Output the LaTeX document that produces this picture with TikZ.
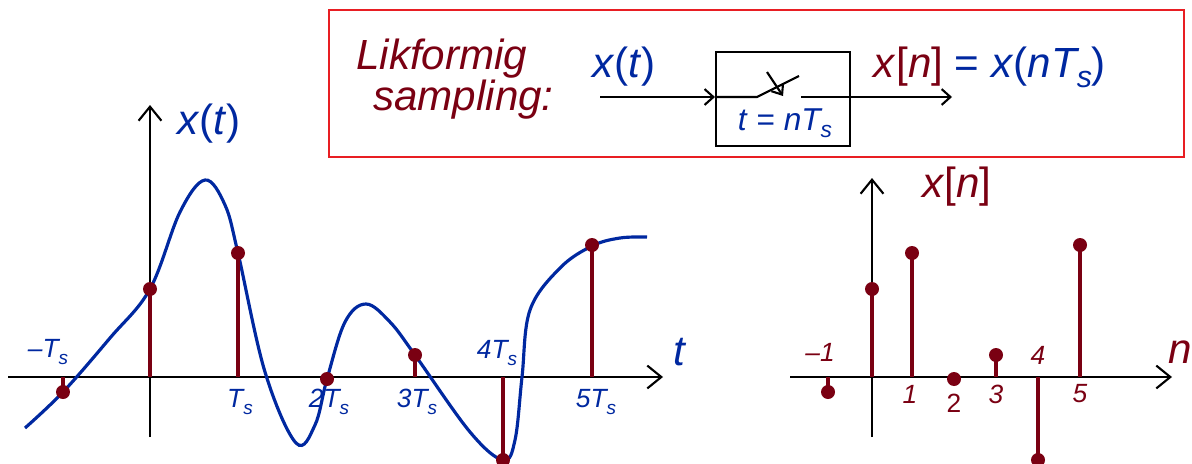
\documentclass[tikz,border=0pt]{standalone}
\usepackage{fontspec}
\setmainfont{Liberation Sans}
\usepackage{graphicx}
\usetikzlibrary{arrows.meta,positioning}
\definecolor{sigBlue}{RGB}{0,40,160}
\definecolor{sampRed}{RGB}{122,0,18}
\definecolor{frameRed}{RGB}{232,30,35}
\newcommand{\subs}[1]{\raisebox{-0.45ex}{\scalebox{0.72}{#1}}}
\newcommand{\Ts}{T\subs{s}}
\newcommand{\lp}{\textup{(}}
\newcommand{\rp}{\textup{)}}

\begin{document}
\begin{tikzpicture}[x=0.02cm, y=-0.02cm,
    every node/.style={font=\fontsize{15}{18}\selectfont\itshape, inner sep=1pt},
    biglabel/.style={font=\fontsize{24}{23}\selectfont\itshape},
    axisline/.style={line width=1.2pt, -{Straight Barb[length=8pt,width=13pt,line width=1.2pt]}},
    sigline/.style={sigBlue, line width=1.8pt},
    stemline/.style={sampRed, line width=1.8pt},
    sampdot/.style={circle, fill=sampRed, inner sep=0pt, minimum size=0.28cm}]
    \useasboundingbox (0,0) rectangle (1192,463);

    % uniform sampling block
    \draw[frameRed, line width=1.3pt] (329,10) rectangle (1184,157);
    \node[biglabel, sampRed, align=left] (title) at (455,79) {Likformig\\ \hspace{0.4em}sampling:};
    \node[biglabel, sigBlue] (xin) at (624,67) {x\lp t\rp};
    \node[draw, line width=1.2pt, minimum width=2.68cm, minimum height=1.88cm] (sampler) at (783,99) {};
    \coordinate (in) at (600,97);
    \coordinate (out) at (952,97);
    \coordinate (swa) at (757,97);
    \coordinate (swb) at (799,76);
    \coordinate (swc) at (801,97);
    \draw[line width=1.2pt, -{Straight Barb[length=5pt,width=9pt]}] (in) -- (sampler.west |- in);
    \draw[line width=1.2pt] (sampler.west |- in) -- (swa) -- (swb);
    \draw[line width=1.2pt, -{Straight Barb[length=5pt,width=9pt]}] (swc) -- (out);
    \draw[line width=1.2pt, -{Straight Barb[length=5pt,width=8pt]}] (767,72) -- (783,96);
    \node[sigBlue, font=\fontsize{18}{20}\selectfont\itshape] (tlab) at (785,123) {t \textup{=} n\Ts};
    \node[biglabel, sigBlue] (xout) at (990,67) {\textcolor{sampRed}{x\textup{[}n\textup{]}} \textup{=} x\lp n\Ts\rp};

    % continuous signal and its samples
    \coordinate (tstart) at (8,377);
    \coordinate (tend) at (663,377);
    \coordinate (ybot) at (150,437);
    \coordinate (ytop) at (150,105);
    \draw[axisline] (tstart) -- (tend);
    \draw[axisline] (ybot) -- (ytop);
    \node[biglabel, sigBlue] (xt) at (209,124) {x\lp t\rp};
    \node[biglabel, sigBlue] (tlabel) at (679,352) {t};
    \draw[sigline] plot[smooth, tension=0.6] coordinates {(25,428) (63,392) (110,338) (150,289)
        (180,212) (205,180) (225,205) (238,253) (265,372) (296,443) (315,425) (327,379)
        (345,322) (366,304) (390,322) (415,355) (470,432) (503,460) (515,440) (522,377)
        (530,310) (560,268) (592,246) (620,238) (647,237)};
    \foreach \k/\px/\py in {a/63/392, b/150/289, c/238/253, d/327/379, e/415/355, f/503/460, g/592/245} {
        \node[sampdot] (s\k) at (\px,\py) {};
        \draw[stemline] (\px,377) -- (s\k.center);
    }
    \node[sigBlue] (la) at (48,352) {–\Ts};
    \node[sigBlue] (lc) at (240,402) {\Ts};
    \node[sigBlue] (ld) at (329,402) {2\Ts};
    \node[sigBlue] (le) at (417,402) {3\Ts};
    \node[sigBlue] (lf) at (497,353) {4\Ts};
    \node[sigBlue] (lg) at (596,402) {5\Ts};

    % discrete sequence
    \coordinate (nstart) at (790,377);
    \coordinate (nend) at (1172,377);
    \coordinate (xbot) at (872,437);
    \coordinate (xtop) at (872,178);
    \draw[axisline] (nstart) -- (nend);
    \draw[axisline] (xbot) -- (xtop);
    \node[biglabel, sampRed] (xn) at (957,187) {x\textup{[}n\textup{]}};
    \node[biglabel, sampRed] (nlabel) at (1180,352) {n};
    \foreach \k/\px/\py in {a/828/392, b/872/289, c/912/253, d/954/379, e/996/355, f/1038/460, g/1080/245} {
        \node[sampdot] (q\k) at (\px,\py) {};
        \draw[stemline] (\px,377) -- (q\k.center);
    }
    \node[sampRed] (na) at (820,352) {–1};
    \node[sampRed] (nc) at (910,394) {1};
    \node[sampRed, font=\fontsize{15}{18}\selectfont\upshape] (nd) at (954,403) {2};
    \node[sampRed] (ne) at (996,394) {3};
    \node[sampRed] (nf) at (1038,355) {4};
    \node[sampRed] (ng) at (1080,394) {5};
\end{tikzpicture}
\end{document}
